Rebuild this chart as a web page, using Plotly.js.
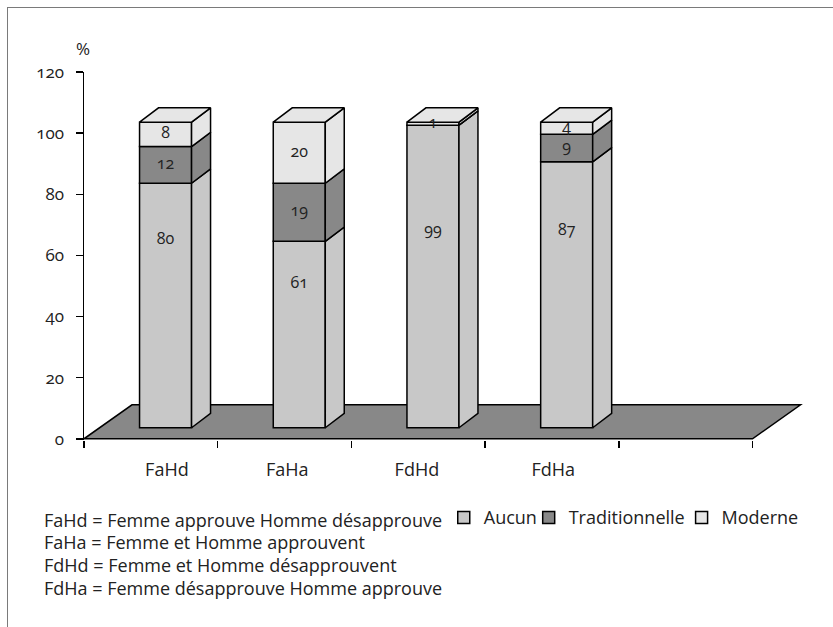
<!DOCTYPE html>
<html><head><meta charset="utf-8">
<script src="https://cdn.plot.ly/plotly-3.0.1.min.js"></script>
<style>
html,body{margin:0;padding:0;background:#fff;overflow:hidden}
#chart{width:833px;height:627px;position:absolute;left:0;top:0}
#frame{position:absolute;left:7px;top:7px;width:900px;height:700px;border-left:1.5px solid #7a7a7a;border-top:1.5px solid #7a7a7a;pointer-events:none}
.main-svg text{font-variant-numeric:oldstyle-nums !important;font-feature-settings:"onum" 1 !important}
</style></head><body>
<div id="chart"></div><div id="frame"></div>
<script>
// ---- data ----
const categories = ['FaHd', 'FaHa', 'FdHd', 'FdHa'];
const seriesNames = ['Aucun', 'Traditionnelle', 'Moderne'];
const aucun = [80, 61, 99, 87];
const traditionnelle = [12, 19, 0, 9];
const moderne = [8, 20, 1, 4];
const yTicks = [0, 20, 40, 60, 80, 100, 120];
const yUnit = '%';
const definitions = [
  'FaHd = Femme approuve Homme désapprouve',
  'FaHa = Femme et Homme approuvent',
  'FdHd = Femme et Homme désapprouvent',
  'FdHa = Femme désapprouve Homme approuve'
];

// ---- style / geometry ----
const FONT = '"Open Sans", "Noto Sans", sans-serif';
const TXT = '#222';
const colors = ['#c8c8c8', '#888888', '#e6e6e6'];
const floorColor = '#888888';
const W = 833, H = 627, L = 84, T = 72, PR = 806.5, PB = 440.2;
const xRange = [0, 5.4], yRange = [-0.4, 120];
const nSlots = 5;
const barW = 0.389, barShift = 0.11, baseY = 3.6;
const depthX = 0.142, depthY = 4.68;
const floorDX = 0.359, floorDY = 11.1;
const labelPos = [0.62, 1.52, 2.49, 3.51];
const legendTextX = [484, 569, 722];
const px2x = px => (px - L) / (PR - L);
const py2y = py => (PB - py) / (PB - T);

const series = [aucun, traditionnelle, moderne];
const centers = categories.map((c, i) => i + 0.5 + barShift);
const cum = categories.map(() => 0);
const traces = [];
const sideTraces = [];
const textTraces = [];
const legendIds = ['legend', 'legend2', 'legend3'];

series.forEach((vals, s) => {
  const bases = vals.map((v, i) => cum[i] + baseY);
  traces.push({
    type: 'bar', x: centers, y: vals, base: bases, width: barW,
    name: seriesNames[s], legend: legendIds[s],
    marker: {color: colors[s], line: {color: '#000', width: 1.5}},
    hoverinfo: 'skip', showlegend: true
  });
  vals.forEach((v, i) => {
    const b0 = bases[i], b1 = b0 + v, xr = centers[i] + barW / 2;
    sideTraces.push({
      type: 'scatter', mode: 'lines', fill: 'toself', fillcolor: colors[s],
      line: {color: '#000', width: 1.5},
      x: [xr, xr + depthX, xr + depthX, xr, xr],
      y: [b0, b0 + depthY, b1 + depthY, b1, b0],
      hoverinfo: 'skip', showlegend: false
    });
  });
  const ly = vals.map((v, i) => s === 0 ? Math.min(bases[i] + v * 0.77, 68) : bases[i] + v / 2);
  textTraces.push({
    type: 'scatter', mode: 'text', x: centers, y: ly,
    text: vals.map(v => v > 0 ? String(v) : ''),
    textfont: {family: FONT, size: 16, color: TXT},
    cliponaxis: false, hoverinfo: 'skip', showlegend: false
  });
  vals.forEach((v, i) => cum[i] += v);
});

// top faces
categories.forEach((c, i) => {
  let topIdx = 0;
  series.forEach((vals, s) => { if (vals[i] > 0) topIdx = s; });
  const top = cum[i] + baseY, xl = centers[i] - barW / 2, xr = centers[i] + barW / 2;
  sideTraces.push({
    type: 'scatter', mode: 'lines', fill: 'toself', fillcolor: colors[topIdx],
    line: {color: '#000', width: 1.5},
    x: [xl, xl + depthX, xr + depthX, xr, xl],
    y: [top, top + depthY, top + depthY, top, top],
    hoverinfo: 'skip', showlegend: false
  });
});

const data = traces.concat(sideTraces, textTraces);

const annotations = [{
  xref: 'paper', yref: 'paper', x: px2x(83), y: py2y(48), text: yUnit,
  showarrow: false, xanchor: 'center', yanchor: 'middle',
  font: {family: FONT, size: 17, color: TXT}
}];
definitions.forEach((d, k) => annotations.push({
  xref: 'paper', yref: 'paper', x: px2x(42), y: py2y(520 + k * 22.6), text: d,
  showarrow: false, xanchor: 'left', yanchor: 'middle',
  font: {family: FONT, size: 18, color: TXT}
}));

const layout = {
  width: W, height: H,
  margin: {l: L, r: W - PR, t: T, b: H - PB, pad: 0},
  paper_bgcolor: '#fff', plot_bgcolor: 'rgba(0,0,0,0)',
  font: {family: FONT, size: 17, color: TXT},
  barmode: 'overlay',
  showlegend: true,
  xaxis: {
    range: xRange, tickmode: 'array', tickvals: Array.from({length: nSlots + 1}, (_, i) => i),
    showticklabels: false, ticks: 'outside', ticklen: 7, tickwidth: 1.5, tickcolor: '#000',
    showline: false, showgrid: false, zeroline: false, fixedrange: true
  },
  xaxis2: {
    overlaying: 'x', anchor: 'y', side: 'bottom', range: xRange,
    tickmode: 'array', tickvals: labelPos, ticktext: categories,
    ticks: '', ticklabelstandoff: 17, showline: false, showgrid: false, zeroline: false,
    tickfont: {family: FONT, size: 18, color: TXT}
  },
  yaxis: {
    range: yRange, tickmode: 'array', tickvals: yTicks,
    ticks: 'outside', ticklen: 7, tickwidth: 1.5, tickcolor: '#000',
    showline: true, linewidth: 1.5, linecolor: '#000',
    showgrid: false, zeroline: false, ticklabelstandoff: 8,
    tickfont: {family: FONT, size: 17, color: TXT}
  },
  shapes: [{
    type: 'path', xref: 'x', yref: 'y', layer: 'below',
    path: `M 0,0 L ${nSlots},0 L ${nSlots + floorDX},${floorDY} L ${floorDX},${floorDY} Z`,
    fillcolor: floorColor, line: {color: '#000', width: 1.5}
  }],
  annotations: annotations
};
legendIds.forEach((id, s) => {
  layout[id] = {
    orientation: 'h', x: px2x(legendTextX[s] - 40), y: py2y(518), xanchor: 'left', yanchor: 'middle',
    font: {family: FONT, size: 18, color: TXT}, bgcolor: 'rgba(0,0,0,0)', itemwidth: 30
  };
});

// dummy trace to activate xaxis2
data.push({type: 'scatter', x: [], y: [], xaxis: 'x2', yaxis: 'y', showlegend: false, hoverinfo: 'skip'});

Plotly.newPlot('chart', data, layout, {displayModeBar: false, staticPlot: true});
</script>
</body></html>
